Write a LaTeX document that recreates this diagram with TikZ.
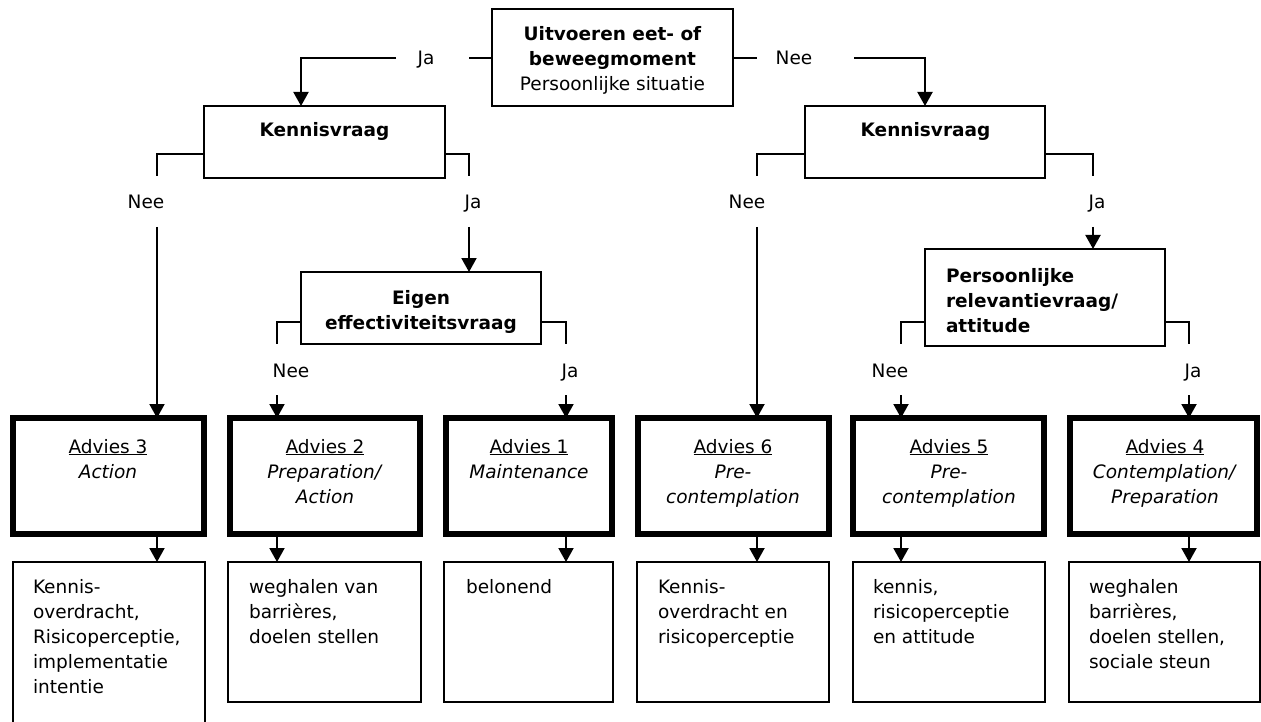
\documentclass[tikz,border=0pt]{standalone}
\usepackage{fontspec}
\setmainfont{DejaVu Sans}
\usetikzlibrary{arrows.meta}
\begin{document}
\begin{tikzpicture}[x=1pt,y=-1pt,
  every node/.style={inner sep=0pt, outer sep=0pt},
  txt/.style={font=\fontsize{18.5pt}{25pt}\selectfont},
  btxt/.style={font=\fontsize{18.5pt}{25pt}\selectfont\bfseries},
  qbox/.style={draw, line width=2pt, anchor=north west},
  abox/.style={draw, line width=5.5pt, anchor=north west},
  cbox/.style={draw, line width=2pt, anchor=north west},
  conn/.style={line width=2pt},
  arr/.style={line width=2pt, -{Triangle[width=15pt,length=14pt]}},
]
\useasboundingbox (0,0) rectangle (1261,722);
\clip (0,0) rectangle (1261,722);

% ---------- helper coordinates ----------
\coordinate (yT) at (0,58);
\coordinate (yB1) at (0,154);
\coordinate (yE1) at (0,176);
\coordinate (yS1) at (0,227);
\coordinate (yB2) at (0,322);
\coordinate (yE2) at (0,344);
\coordinate (yS2) at (0,395);
\coordinate (gJa1) at (396,58);
\coordinate (gJa2) at (469,58);
\coordinate (gNe1) at (757,58);
\coordinate (gNe2) at (854,58);
\coordinate (xJa) at (301,0);
\coordinate (xNee) at (925,0);
\coordinate (x3) at (157,0);
\coordinate (xE) at (469,0);
\coordinate (x2) at (277,0);
\coordinate (x1) at (566,0);
\coordinate (x6) at (757,0);
\coordinate (xP) at (1093,0);
\coordinate (x5) at (901,0);
\coordinate (x4) at (1189,0);

% ---------- question boxes ----------
\node[qbox, minimum width=241pt, minimum height=97pt] (top) at (492,9) {};
\node[qbox, minimum width=241pt, minimum height=72pt] (KL) at (204,106) {};
\node[qbox, minimum width=240pt, minimum height=72pt] (KR) at (805,106) {};
\node[qbox, minimum width=240pt, minimum height=72pt] (EG) at (301,272) {};
\node[qbox, minimum width=240pt, minimum height=97pt] (PR) at (925,249) {};

% (multi-line nodes: base anchor = baseline of last line)
\node[btxt, anchor=base, align=center] (topt) at (612.5,91)
  {Uitvoeren eet- of\\beweegmoment\\{\mdseries Persoonlijke situatie}};
\node[btxt, anchor=base] (KLt) at (324.5,137) {Kennisvraag};
\node[btxt, anchor=base] (KRt) at (925.5,137) {Kennisvraag};
\node[btxt, anchor=base, align=center] (EGt) at (421,329) {Eigen\\effectiviteitsvraag};
\node[btxt, anchor=base west, align=left] (PRt) at (946,332) {Persoonlijke\\relevantievraag/\\attitude};

% ---------- advice boxes ----------
\node[abox, minimum width=191pt, minimum height=116pt] (A3) at (13,418) {};
\node[abox, minimum width=190pt, minimum height=116pt] (A2) at (230,418) {};
\node[abox, minimum width=166pt, minimum height=116pt] (A1) at (446,418) {};
\node[abox, minimum width=191pt, minimum height=116pt] (A6) at (638,418) {};
\node[abox, minimum width=191pt, minimum height=116pt] (A5) at (853,418) {};
\node[abox, minimum width=187pt, minimum height=116pt] (A4) at (1070,418) {};

\node[txt, anchor=base, align=center] (A3t) at (108,478) {\underline{Advies 3}\\\textit{Action}};
\node[txt, anchor=base, align=center] (A2t) at (325,503) {\underline{Advies 2}\\\textit{Preparation/}\\\textit{Action}};
\node[txt, anchor=base, align=center] (A1t) at (529,478) {\underline{Advies 1}\\\textit{Maintenance}};
\node[txt, anchor=base, align=center] (A6t) at (733,503) {\underline{Advies 6}\\\textit{Pre-}\\\textit{contemplation}};
\node[txt, anchor=base, align=center] (A5t) at (949,503) {\underline{Advies 5}\\\textit{Pre-}\\\textit{contemplation}};
\node[txt, anchor=base, align=center] (A4t) at (1165,503) {\underline{Advies 4}\\\textit{Contemplation/}\\\textit{Preparation}};

% ---------- content boxes ----------
\node[cbox, minimum width=192pt, minimum height=170pt] (C3) at (13,562) {};
\node[cbox, minimum width=193pt, minimum height=140pt] (C2) at (228,562) {};
\node[cbox, minimum width=169pt, minimum height=140pt] (C1) at (444,562) {};
\node[cbox, minimum width=192pt, minimum height=140pt] (C6) at (637,562) {};
\node[cbox, minimum width=192pt, minimum height=140pt] (C5) at (853,562) {};
\node[cbox, minimum width=191pt, minimum height=140pt] (C4) at (1069,562) {};

\node[txt, anchor=base west, align=left] (C3t) at (33,693) {Kennis-\\overdracht,\\Risicoperceptie,\\implementatie\\intentie};
\node[txt, anchor=base west, align=left] (C2t) at (249,643) {weghalen van\\barrières,\\doelen stellen};
\node[txt, anchor=base west, align=left] (C1t) at (466,593) {belonend};
\node[txt, anchor=base west, align=left] (C6t) at (658,643) {Kennis-\\overdracht en\\risicoperceptie};
\node[txt, anchor=base west, align=left] (C5t) at (873,643) {kennis,\\risicoperceptie\\en attitude};
\node[txt, anchor=base west, align=left] (C4t) at (1089,668) {weghalen\\barrières,\\doelen stellen,\\sociale steun};

% ---------- top connectors ----------
\draw[conn] (top.west |- yT) -- (gJa2);
\draw[arr] (gJa1) -- (xJa |- yT) -- (xJa |- KL.north);
\node[txt, anchor=base] (lJa0) at (426,65) {Ja};
\draw[conn] (top.east |- yT) -- (gNe1);
\draw[arr] (gNe2) -- (xNee |- yT) -- (xNee |- KR.north);
\node[txt, anchor=base] (lNee0) at (794,65) {Nee};

% ---------- left Kennisvraag ----------
\draw[conn] (KL.west |- yB1) -- (x3 |- yB1) -- (x3 |- yE1);
\node[txt, anchor=base] (lNee1) at (146,209) {Nee};
\draw[arr] (x3 |- yS1) -- (x3 |- A3.north);
\draw[conn] (KL.east |- yB1) -- (xE |- yB1) -- (xE |- yE1);
\node[txt, anchor=base] (lJa1) at (473,209) {Ja};
\draw[arr] (xE |- yS1) -- (xE |- EG.north);

% ---------- Eigen effectiviteit ----------
\draw[conn] (EG.west |- yB2) -- (x2 |- yB2) -- (x2 |- yE2);
\node[txt, anchor=base] (lNee2) at (291,377) {Nee};
\draw[arr] (x2 |- yS2) -- (x2 |- A2.north);
\draw[conn] (EG.east |- yB2) -- (x1 |- yB2) -- (x1 |- yE2);
\node[txt, anchor=base] (lJa2) at (570,377) {Ja};
\draw[arr] (x1 |- yS2) -- (x1 |- A1.north);

% ---------- right Kennisvraag ----------
\draw[conn] (KR.west |- yB1) -- (x6 |- yB1) -- (x6 |- yE1);
\node[txt, anchor=base] (lNee3) at (747,209) {Nee};
\draw[arr] (x6 |- yS1) -- (x6 |- A6.north);
\draw[conn] (KR.east |- yB1) -- (xP |- yB1) -- (xP |- yE1);
\node[txt, anchor=base] (lJa3) at (1097,209) {Ja};
\draw[arr] (xP |- yS1) -- (xP |- PR.north);

% ---------- Persoonlijke relevantie ----------
\draw[conn] (PR.west |- yB2) -- (x5 |- yB2) -- (x5 |- yE2);
\node[txt, anchor=base] (lNee4) at (890,377) {Nee};
\draw[arr] (x5 |- yS2) -- (x5 |- A5.north);
\draw[conn] (PR.east |- yB2) -- (x4 |- yB2) -- (x4 |- yE2);
\node[txt, anchor=base] (lJa4) at (1193,377) {Ja};
\draw[arr] (x4 |- yS2) -- (x4 |- A4.north);

% ---------- advice to content ----------
\draw[arr] (x3 |- A3.south) -- (x3 |- C3.north);
\draw[arr] (x2 |- A2.south) -- (x2 |- C2.north);
\draw[arr] (x1 |- A1.south) -- (x1 |- C1.north);
\draw[arr] (x6 |- A6.south) -- (x6 |- C6.north);
\draw[arr] (x5 |- A5.south) -- (x5 |- C5.north);
\draw[arr] (x4 |- A4.south) -- (x4 |- C4.north);
\end{tikzpicture}
\end{document}
